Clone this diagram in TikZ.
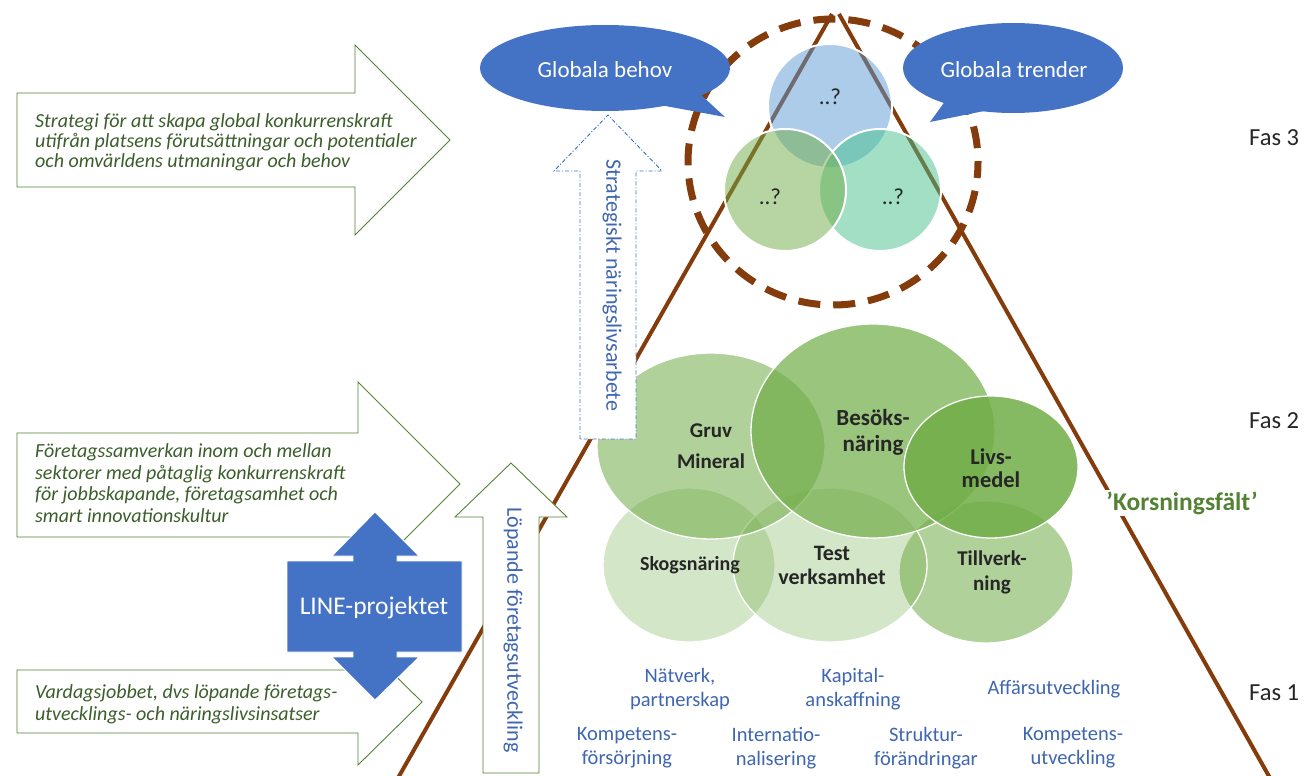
\documentclass[tikz,border=0pt]{standalone}
\usepackage{fontspec}
\setmainfont{Carlito}
\definecolor{brownl}{HTML}{843C0C}
\definecolor{offblue}{HTML}{4472C4}
\definecolor{lblue}{HTML}{3F66B0}
\definecolor{agreen}{HTML}{548235}
\definecolor{tgreen}{HTML}{3B5E2B}
\definecolor{dgreen}{HTML}{70AD47}
\definecolor{kgreen}{HTML}{548235}
\definecolor{darkt}{HTML}{262626}
\definecolor{vblue}{HTML}{5B9BD5}
\definecolor{vgreen}{HTML}{70AD47}
\definecolor{vteal}{HTML}{47C18D}
\tikzset{
  arrowbox/.style={fill=white, draw=agreen, line width=0.9pt, line join=miter},
  armtext/.style={text=tgreen, align=left, anchor=west, inner sep=0pt},
  brownline/.style={draw=brownl, line width=4pt},
  venn/.style={draw=white, line width=2pt, fill opacity=0.5},
  fastwo/.style={draw=white, line width=1.3pt, fill=dgreen},
  ctext/.style={text=darkt, align=center, inner sep=0pt},
  lbl/.style={text=lblue, font=\fontsize{20.5}{24}\selectfont, align=center, inner sep=0pt},
  fas/.style={text=darkt, font=\fontsize{24.5}{28}\selectfont, anchor=west, inner sep=0pt},
  qtext/.style={text=darkt, font=\fontsize{23}{26}\selectfont, inner sep=0pt},
  bubtext/.style={text=white, font=\fontsize{23}{26}\selectfont, inner sep=0pt},
  vtext/.style={text=lblue, rotate=-90, inner sep=0pt, font=\fontsize{22}{26}\selectfont},
}
\begin{document}
\begin{tikzpicture}[x=1pt,y=-1pt]
\useasboundingbox (0,0) rectangle (1304,776);
\fill[white] (0,0) rectangle (1304,776);

% left arrows
\draw[arrowbox] (17,93) -- (355,93) -- (355,45) -- (450,140) -- (355,235) -- (355,187) -- (17,187) -- cycle;
\draw[arrowbox] (17,433) -- (358,433) -- (358,382) -- (460,484) -- (358,586) -- (358,537) -- (17,537) -- cycle;
\draw[arrowbox] (17,670) -- (358,670) -- (358,639) -- (422,702) -- (358,765) -- (358,733) -- (17,733) -- cycle;

\node[armtext, font=\fontsize{20}{20}\selectfont\itshape] (t1) at (35,142) {Strategi för att skapa global konkurrenskraft\\utifrån platsens förutsättningar och potentialer\\och omvärldens utmaningar och behov};
\node[armtext, font=\fontsize{20}{21.7}\selectfont\itshape] (t2) at (35,483) {Företagssamverkan inom och mellan\\sektorer med påtaglig konkurrenskraft\\för jobbskapande, företagsamhet och\\smart innovationskultur};
\node[armtext, font=\fontsize{20}{22}\selectfont\itshape] (t3) at (35,704) {Vardagsjobbet, dvs löpande företags-\\utvecklings- och näringslivsinsatser};

% triangle
\draw[brownline] (832,14) -- (398,778);
\draw[brownline] (839,14) -- (1270,778);

% dashed circle
\draw[draw=brownl, line width=7pt, dash pattern=on 22pt off 13pt, dash phase=6pt] (833,162) ellipse [x radius=145, y radius=143];

% venn
\draw[venn, fill=vblue] (830,106) circle [radius=62];
\draw[venn, fill=vteal] (880,190) circle [radius=61];
\draw[venn, fill=vgreen] (785,190) circle [radius=61];
\node[qtext] (q1) at (830,97) {..?};
\node[qtext] (q2) at (770,197) {..?};
\node[qtext] (q3) at (893,197) {..?};

% bubbles
\fill[offblue] (605,68) ellipse [x radius=125, y radius=43];
\fill[offblue] (660,105) -- (725,117) -- (700,94) -- cycle;
\node[bubtext] (gb) at (605,70) {Globala behov};
\fill[offblue] (1013,68) ellipse [x radius=110, y radius=45];
\fill[offblue] (946,100) -- (930,122) -- (984,111) -- cycle;
\node[bubtext] (gt) at (1014,70) {Globala trender};

% fas 2 ellipses
\draw[fastwo, fill opacity=0.3] (689,565) ellipse [x radius=86, y radius=77];
\draw[fastwo, fill opacity=0.55] (986,572) ellipse [x radius=87, y radius=71];
\draw[fastwo, fill opacity=0.3] (830,565) ellipse [x radius=97, y radius=77];
\draw[fastwo, fill opacity=0.55] (711,446) ellipse [x radius=114, y radius=93];
\draw[fastwo, fill opacity=0.7] (873,431) ellipse [x radius=122, y radius=107];
\draw[fastwo, fill opacity=0.85] (991,467) ellipse [x radius=87, y radius=71];

\node[ctext, font=\fontsize{21}{31}\selectfont\bfseries] (gruv) at (711,446) {Gruv\\Mineral};
\node[ctext, font=\fontsize{23}{26}\selectfont\bfseries] (bes) at (873,432) {Besöks-\\näring};
\node[ctext, font=\fontsize{22.5}{23}\selectfont\bfseries] (livs) at (991,468) {Livs-\\medel};
\node[ctext, font=\fontsize{20}{22}\selectfont\bfseries] (skog) at (690,565) {Skogsnäring};
\node[ctext, font=\fontsize{22}{24}\selectfont\bfseries] (test) at (832,565) {Test\\verksamhet};
\node[ctext, font=\fontsize{21}{25}\selectfont\bfseries] (till) at (992,572) {Tillverk-\\ning};

% strategiskt arrow
\draw[fill=white, draw=offblue, line width=0.9pt, dash pattern=on 4pt off 2pt on 1pt off 2pt] (580,439) -- (580,171) -- (554,171) -- (608,115) -- (662,171) -- (636,171) -- (636,439) -- cycle;
\node[vtext] (strat) at (612,285) {Strategiskt näringslivsarbete};

% löpande arrow
\draw[arrowbox] (483,773) -- (483,517) -- (455,517) -- (511,463) -- (567,517) -- (539,517) -- (539,773) -- cycle;
\node[vtext] (lop) at (513,630) {Löpande företagsutveckling};

% LINE-projektet
\draw[fill=offblue, draw=white, line width=0.8pt] (287,561) -- (353,561) -- (353,556) -- (332,556) -- (375,512) -- (419,556) -- (397,556) -- (397,561) -- (462,561) -- (462,652) -- (397,652) -- (397,657) -- (419,657) -- (375,700) -- (332,657) -- (353,657) -- (353,652) -- (287,652) -- cycle;
\node[bubtext, font=\fontsize{25.5}{28}\selectfont] (line) at (374,608) {LINE-projektet};

% korsningsfält
\node[fill=white, text=kgreen, font=\fontsize{25.5}{28}\selectfont\bfseries, inner sep=2pt] (kors) at (1182,503) {’Korsningsfält’};

% fas labels
\node[fas] (f3) at (1249,138) {Fas 3};
\node[fas] (f2) at (1249,421) {Fas 2};
\node[fas] (f1) at (1249,693) {Fas 1};

% bottom labels
\node[lbl] (l1) at (680,689) {Nätverk,\\partnerskap};
\node[lbl] (l2) at (853,689) {Kapital-\\anskaffning};
\node[lbl] (l3) at (1054,689) {Affärsutveckling};
\node[lbl] (l4) at (627,748) {Kompetens-\\försörjning};
\node[lbl] (l5) at (776,748) {Internatio-\\nalisering};
\node[lbl] (l6) at (926,748) {Struktur-\\förändringar};
\node[lbl] (l7) at (1073,748) {Kompetens-\\utveckling};
\end{tikzpicture}
\end{document}
